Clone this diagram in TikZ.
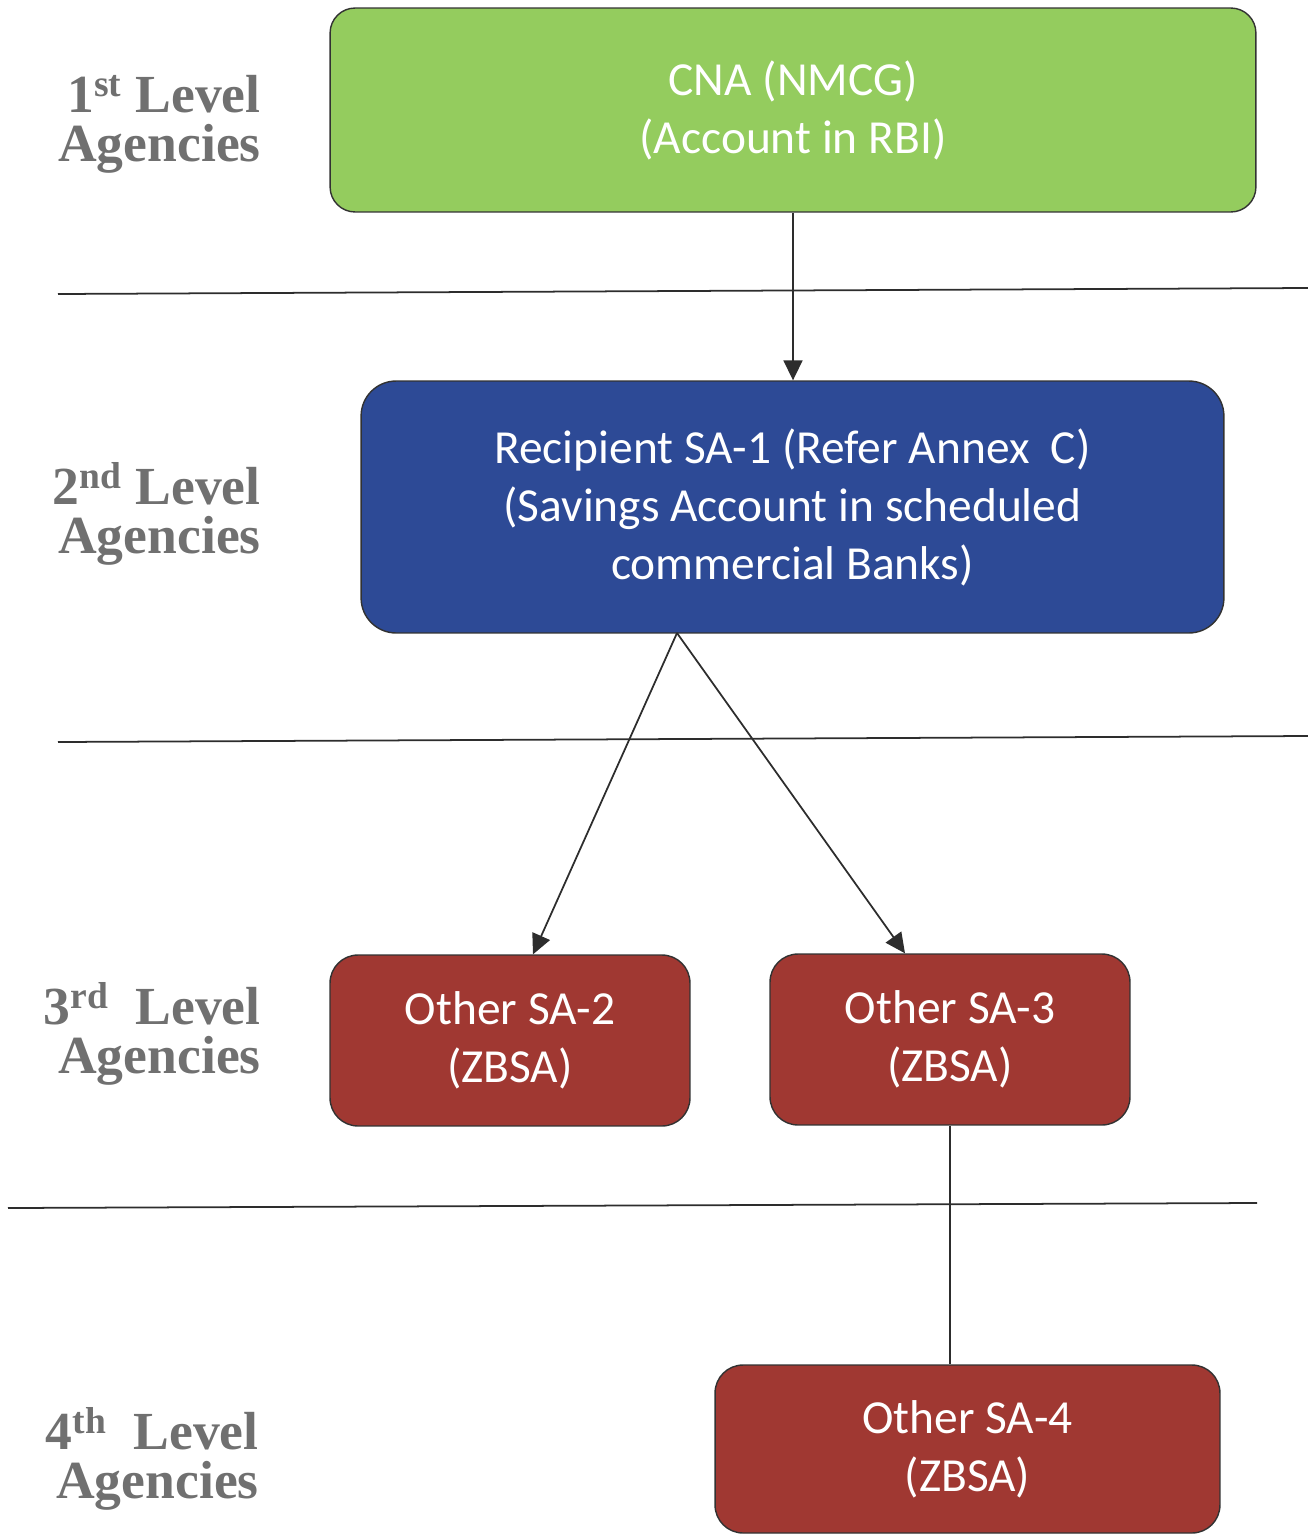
\documentclass[tikz,border=0pt]{standalone}
\usepackage{fontspec}
\setmainfont{Liberation Serif}
\newfontfamily\boxfont{Carlito}
\usetikzlibrary{arrows.meta}
\definecolor{cnagreen}{RGB}{148,204,94}
\definecolor{sablue}{RGB}{45,74,150}
\definecolor{sared}{RGB}{160,56,50}
\definecolor{labelgray}{RGB}{112,112,112}
\definecolor{linegray}{RGB}{45,45,45}
\definecolor{boxline}{RGB}{50,50,50}
\begin{document}
\begin{tikzpicture}[x=0.02cm,y=-0.02cm,
    level/.style={anchor=east,align=right,inner sep=0pt,text=labelgray,
      font=\bfseries\fontsize{30.5}{28}\selectfont},
    account/.style={draw=boxline,line width=0.8pt,rounded corners=0.56cm,
      text=white,align=center,font=\boxfont\fontsize{27}{33}\selectfont},
    flow/.style={draw=linegray,line width=1pt,-{Triangle[length=0.4cm,width=0.38cm]}},
    rule/.style={draw=linegray,line width=1pt}]
  \useasboundingbox (0,0) rectangle (1308,1535);
  % level labels
  \node[level] (lvl1) at (261,124) {1\textsuperscript{st} Level\\Agencies};
  \node[level] (lvl2) at (261,514) {2\textsuperscript{nd} Level\\Agencies};
  \node[level] (lvl3) at (261,1034) {3\textsuperscript{rd}~ Level\\Agencies};
  \node[level] (lvl4) at (259,1459) {4\textsuperscript{th}~ Level\\Agencies};
  % separators
  \draw[rule] (58,294) -- (1308,288);
  \draw[rule] (58,742) -- (1308,736);
  \draw[rule] (8,1208) -- (1257,1203);
  % accounts
  \node[account,fill=cnagreen,rounded corners=0.5cm,minimum width=18.52cm,minimum height=4.08cm]
    (cna) at (793,110) {CNA (NMCG)\\(Account in RBI)};
  \node[account,fill=sablue,rounded corners=0.7cm,minimum width=17.26cm,minimum height=5.04cm]
    (sa1) at (792.5,507) {Recipient SA-1 (Refer Annex~ C)\\(Savings Account in scheduled\\commercial Banks)};
  \node[account,fill=sared,minimum width=7.2cm,minimum height=3.42cm]
    (sa2) at (510,1040.5) {Other SA-2\\(ZBSA)};
  \node[account,fill=sared,minimum width=7.2cm,minimum height=3.42cm]
    (sa3) at (950,1039.5) {Other SA-3\\(ZBSA)};
  \node[account,fill=sared,minimum width=10.1cm,minimum height=3.36cm]
    (sa4) at (967.5,1449) {Other SA-4\\(ZBSA)};
  % connectors
  \coordinate (fork) at (677,633);
  \draw[flow] (cna.south) -- (cna.south |- sa1.north);
  \draw[flow] (fork) -- ([xshift=0.46cm]sa2.north);
  \draw[flow] (fork) -- ([xshift=-0.9cm]sa3.north);
  \draw[rule] (sa3.south) -- (sa3.south |- sa4.north);
\end{tikzpicture}
\end{document}
